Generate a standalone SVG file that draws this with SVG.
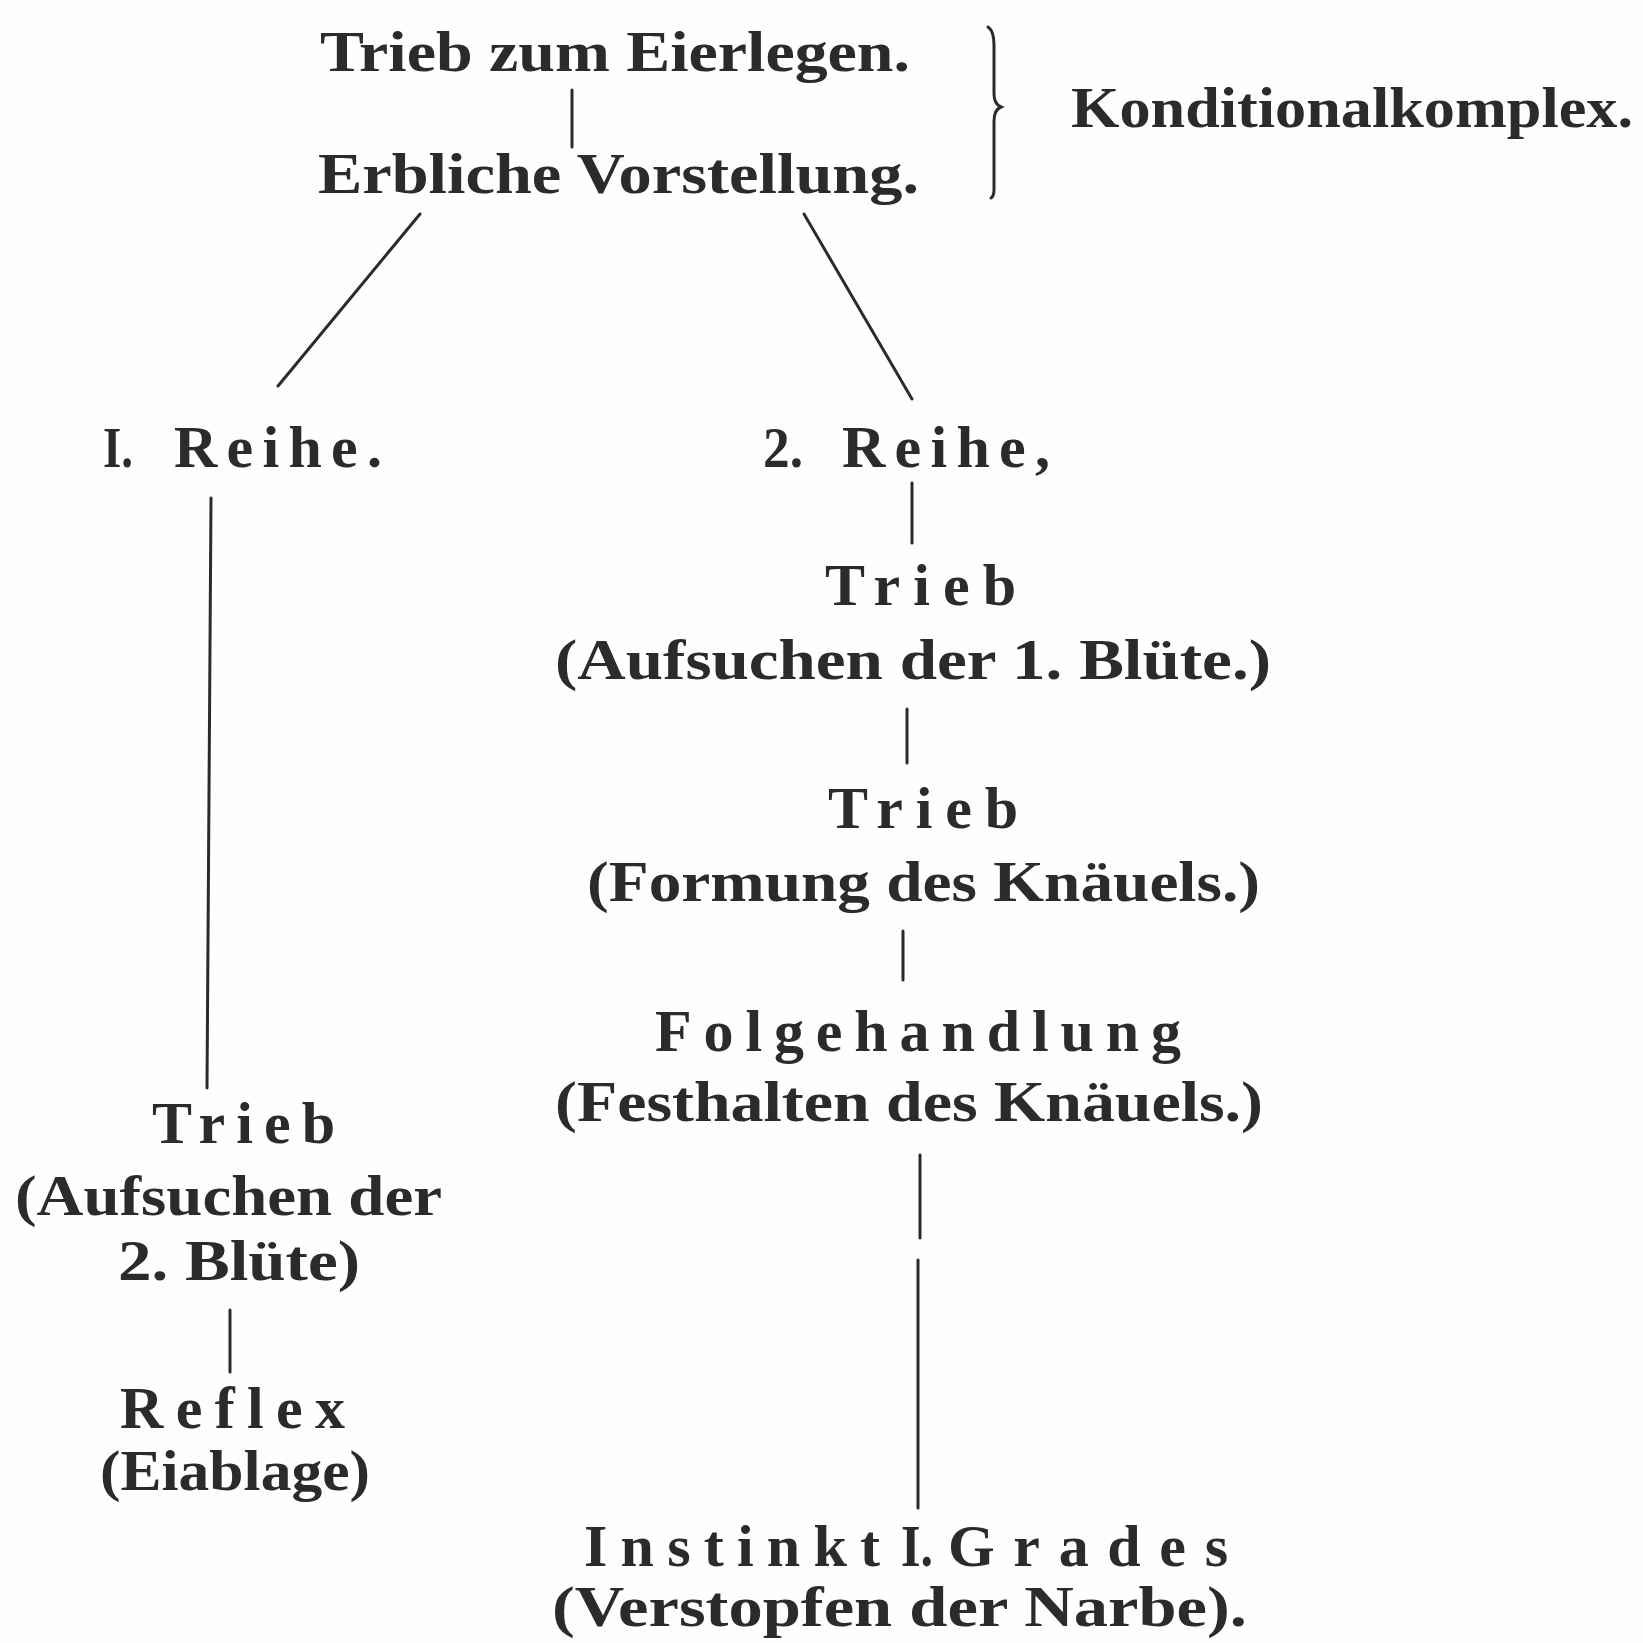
<svg xmlns="http://www.w3.org/2000/svg" width="1643" height="1643" viewBox="0 0 1643 1643">
<style>
text{font-family:"Liberation Serif","DejaVu Serif",serif;font-weight:bold;fill:#2b2b2b;font-size:58px}
.h{font-size:60px}
.c{stroke:#2b2b2b;stroke-width:3;fill:none;stroke-linecap:round}
</style>
<rect width="1643" height="1643" fill="#fefefe"/>
<g id="n-trieb-eierlegen"><text x="320" y="71" textLength="590" lengthAdjust="spacingAndGlyphs">Trieb zum Eierlegen.</text></g>
<g id="n-erbliche"><text x="318" y="193" textLength="601" lengthAdjust="spacingAndGlyphs">Erbliche Vorstellung.</text></g>
<g id="n-konditional"><text x="1071" y="127" textLength="562" lengthAdjust="spacingAndGlyphs">Konditionalkomplex.</text></g>
<g id="n-reihe1"><text x="103" y="467" textLength="30" lengthAdjust="spacingAndGlyphs">I.</text><text class="h" x="174" y="467" textLength="208" lengthAdjust="spacing">Reihe.</text></g>
<g id="n-reihe2"><text x="763" y="467" textLength="40" lengthAdjust="spacingAndGlyphs">2.</text><text class="h" x="842" y="467" textLength="208" lengthAdjust="spacing">Reihe,</text></g>
<g id="n-trieb-b1"><text class="h" x="825" y="605" textLength="191" lengthAdjust="spacing">Trieb</text><text x="555" y="679" textLength="716" lengthAdjust="spacingAndGlyphs">(Aufsuchen der 1. Blüte.)</text></g>
<g id="n-trieb-kn"><text class="h" x="828" y="828" textLength="190" lengthAdjust="spacing">Trieb</text><text x="587" y="901" textLength="673" lengthAdjust="spacingAndGlyphs">(Formung des Knäuels.)</text></g>
<g id="n-folge"><text class="h" x="655" y="1051" textLength="526" lengthAdjust="spacing">Folgehandlung</text><text x="555" y="1121" textLength="708" lengthAdjust="spacingAndGlyphs">(Festhalten des Knäuels.)</text></g>
<g id="n-instinkt"><text class="h" x="584" y="1566" textLength="296" lengthAdjust="spacing">Instinkt</text><text class="h" x="901" y="1566" textLength="32" lengthAdjust="spacingAndGlyphs">I.</text><text class="h" x="948" y="1566" textLength="280" lengthAdjust="spacing">Grades</text><text x="552" y="1626" textLength="695" lengthAdjust="spacingAndGlyphs">(Verstopfen der Narbe).</text></g>
<g id="n-trieb-b2"><text class="h" x="152" y="1143" textLength="183" lengthAdjust="spacing">Trieb</text><text x="15" y="1215" textLength="427" lengthAdjust="spacingAndGlyphs">(Aufsuchen der</text><text x="118" y="1280" textLength="242" lengthAdjust="spacingAndGlyphs">2. Blüte)</text></g>
<g id="n-reflex"><text class="h" x="120" y="1428" textLength="225" lengthAdjust="spacing">Reflex</text><text x="100" y="1490" textLength="270" lengthAdjust="spacingAndGlyphs">(Eiablage)</text></g>
<g id="connectors">
<line class="c" x1="572" y1="90" x2="572" y2="147"/>
<path class="c" d="M988 27 Q994 31 994 45 L994 94 Q994 104 1001 107 Q994 110 994 121 L994 190 Q994 196 991 198" stroke-width="3"/>
<line class="c" x1="420" y1="214" x2="278" y2="386"/>
<line class="c" x1="804" y1="214" x2="912" y2="399" stroke-width="2.5"/>
<line class="c" x1="211" y1="498" x2="207" y2="1088"/>
<line class="c" x1="912" y1="483" x2="912" y2="543"/>
<line class="c" x1="907" y1="709" x2="907" y2="763"/>
<line class="c" x1="903" y1="931" x2="903" y2="980" stroke-width="2.5"/>
<line class="c" x1="920" y1="1155" x2="920" y2="1238" stroke-width="3.5"/>
<line class="c" x1="918" y1="1260" x2="918" y2="1508"/>
<line class="c" x1="230" y1="1310" x2="230" y2="1372" stroke-width="2"/>
</g>
</svg>
